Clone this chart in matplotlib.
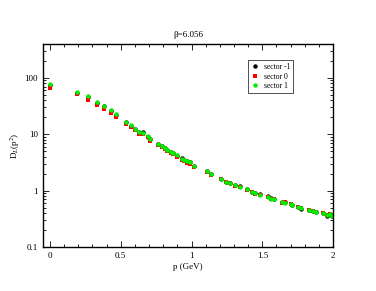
import matplotlib
matplotlib.use("Agg")
import matplotlib.pyplot as plt
from matplotlib.ticker import FixedLocator, MultipleLocator, LogLocator, NullFormatter

p = [0.0, 0.19, 0.27, 0.33, 0.38, 0.43, 0.47, 0.54, 0.57, 0.60, 0.63, 0.66, 0.69, 0.71,
     0.76, 0.79, 0.81, 0.83, 0.855, 0.87, 0.895, 0.93, 0.95, 0.97, 0.99, 1.02,
     1.11, 1.14, 1.21, 1.245, 1.27, 1.31, 1.34, 1.39, 1.43, 1.45, 1.48,
     1.54, 1.56, 1.58, 1.64, 1.66, 1.70, 1.71, 1.75, 1.77, 1.83, 1.86, 1.88,
     1.93, 1.96, 1.98, 1.99]

sec_m1 = [74, 55, 45, 36, 32, 26, 22, 16.5, 14.2, 12.4, 10.9, 10.9, 9.1, 8.2,
          6.6, 6.1, 5.7, 5.2, 4.9, 4.6, 4.2, 3.8, 3.5, 3.35, 3.2, 2.75,
          2.25, 1.97, 1.62, 1.42, 1.38, 1.26, 1.19, 1.05, 0.96, 0.91, 0.86,
          0.80, 0.73, 0.70, 0.63, 0.62, 0.58, 0.56, 0.52, 0.48, 0.46, 0.43, 0.42,
          0.40, 0.355, 0.38, 0.36]

sec_0 = [66, 51, 40, 33, 28.5, 23.5, 20, 15.5, 13.6, 11.9, 10.3, 10.0, 8.8, 7.7,
         6.4, 5.9, 5.5, 5.0, 4.6, 4.4, 4.0, 3.5, 3.3, 3.15, 2.95, 2.65,
         2.15, 1.93, 1.62, 1.40, 1.37, 1.22, 1.16, 1.02, 0.96, 0.89, 0.83,
         0.77, 0.72, 0.70, 0.61, 0.62, 0.58, 0.55, 0.52, 0.49, 0.46, 0.44, 0.42,
         0.40, 0.37, 0.38, 0.36]

sec_1 = [78, 57, 47, 37, 31.5, 26.5, 22.5, 16.5, 14.4, 12.6, 10.8, 10.4, 9.2, 8.4,
         6.6, 6.2, 5.8, 5.3, 4.8, 4.6, 4.3, 3.6, 3.5, 3.35, 3.2, 2.75,
         2.2, 1.96, 1.6, 1.42, 1.39, 1.25, 1.18, 1.05, 0.95, 0.91, 0.85,
         0.77, 0.72, 0.71, 0.62, 0.61, 0.58, 0.55, 0.52, 0.49, 0.46, 0.43, 0.42,
         0.40, 0.37, 0.38, 0.36]

serif = ["Liberation Serif", "DejaVu Serif"]
plt.rcParams["font.family"] = serif
plt.rcParams["mathtext.fontset"] = "stix"

fig = plt.figure(figsize=(3.76, 2.91), dpi=100)
ax = fig.add_axes([0.114, 0.151, 0.772, 0.698])

ax.plot(p, sec_m1, "o", color="black", ms=3.2, mew=0, label="sector -1")
ax.plot(p, sec_0, "s", color="red", ms=3.0, mew=0, label="sector 0")
ax.plot(p, sec_1, "o", color="#00ee00", ms=3.2, mew=0, label="sector 1")

ax.set_yscale("log")
ax.set_xlim(-0.05, 2.0)
ax.set_ylim(0.1, 400)

ax.xaxis.set_major_locator(MultipleLocator(0.5))
ax.xaxis.set_minor_locator(MultipleLocator(0.1))
ax.set_xticks([0, 0.5, 1, 1.5, 2])
ax.set_xticklabels(["0", "0.5", "1", "1.5", "2"])
ax.yaxis.set_major_locator(FixedLocator([0.1, 1, 10, 100]))
ax.set_yticklabels(["0.1", "1", "10", "100"])
ax.yaxis.set_minor_locator(LogLocator(base=10, subs=range(2, 10)))
ax.yaxis.set_minor_formatter(NullFormatter())

ax.tick_params(which="both", direction="in", top=True, right=True, labelsize=6.5, width=0.6)
ax.tick_params(which="major", length=4)
ax.tick_params(which="minor", length=2)
for s in ax.spines.values():
    s.set_linewidth(1.0)

ax.set_title("β=6.056", fontsize=6.5, pad=5)
ax.set_xlabel("p (GeV)", fontsize=6.5, labelpad=2)
ax.set_ylabel(r"D$_L$(p$^2$)", fontsize=6.5, labelpad=2)

leg = ax.legend(loc="upper left", bbox_to_anchor=(0.695, 0.94), fontsize=5.5,
                frameon=True, fancybox=False, edgecolor="black", borderpad=0.4,
                handletextpad=0.6, handlelength=1.0, labelspacing=0.2)
leg.get_frame().set_linewidth(0.6)

fig.savefig("out.png", dpi=100)
